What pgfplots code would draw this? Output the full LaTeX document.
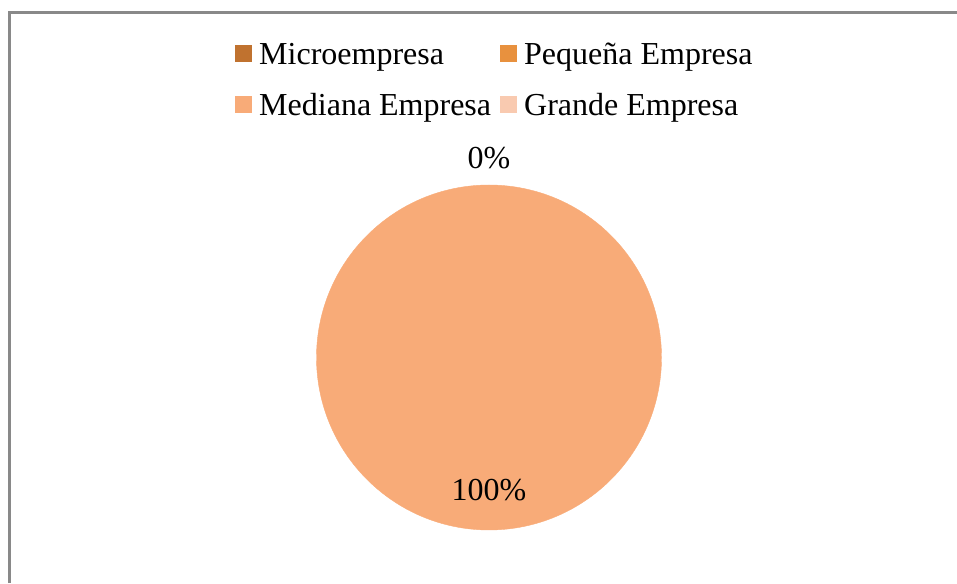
\documentclass[border=0pt]{standalone}
\usepackage{pgfplots}
\pgfplotsset{compat=1.18}
\usepackage{fontspec}
\setmainfont{Liberation Serif}
\definecolor{cMicro}{HTML}{C0722F}
\definecolor{cPeq}{HTML}{E8913E}
\definecolor{cMed}{HTML}{F8AB78}
\definecolor{cGra}{HTML}{F9CAB0}
\definecolor{frame}{HTML}{898989}
\begin{document}
\begin{tikzpicture}
\begin{axis}[
  scale only axis, width=957pt, height=583pt,
  xmin=0, xmax=957, ymin=0, ymax=583,
  axis lines=none, clip=false,
  legend columns=2,
  legend image code/.code={\fill[#1] (0pt,-8.5pt) rectangle (17pt,8.5pt);},
  legend cell align=left,
  legend style={draw=none, fill=none, inner sep=0pt,
    at={(0.2456,0.9343)}, anchor=north west,
    font=\fontsize{32}{38}\selectfont,
    nodes={inner sep=0pt, text height=26pt, text depth=4.4pt},
    row sep=20.6pt,
    /tikz/every odd column/.append style={column sep=7pt},
    /tikz/every even column/.append style={column sep=9pt}},
]
% Pie: Microempresa 0%, Pequena 0%, Mediana 100%, Grande 0%
\addlegendimage{fill=cMicro, draw=none}
\addlegendentry{Microempresa}
\addlegendimage{fill=cPeq, draw=none}
\addlegendentry{Pequeña Empresa}
\addlegendimage{fill=cMed, draw=none}
\addlegendentry{Mediana Empresa}
\addlegendimage{fill=cGra, draw=none}
\addlegendentry{Grande Empresa}
\addplot[only marks, mark=*, mark size=172.5pt, color=cMed,
  mark options={draw=none, fill=cMed}, forget plot]
  coordinates {(489,225.5)};
\coordinate (L0) at (axis cs:489,425);
\coordinate (L100) at (axis cs:489,93);
\coordinate (LL) at (axis cs:0,0);
\coordinate (UR) at (axis cs:957,583);
\draw[frame, line width=2.5pt] (axis cs:9.7,0) -- (axis cs:9.7,570.5) -- (axis cs:957,570.5);
\end{axis}
\node[font=\fontsize{32}{38}\selectfont, inner sep=0pt] at (L0) {0\%};
\node[font=\fontsize{32}{38}\selectfont, inner sep=0pt] at (L100) {100\%};
\pgfresetboundingbox
\useasboundingbox (LL) rectangle (UR);
\end{tikzpicture}
\end{document}
